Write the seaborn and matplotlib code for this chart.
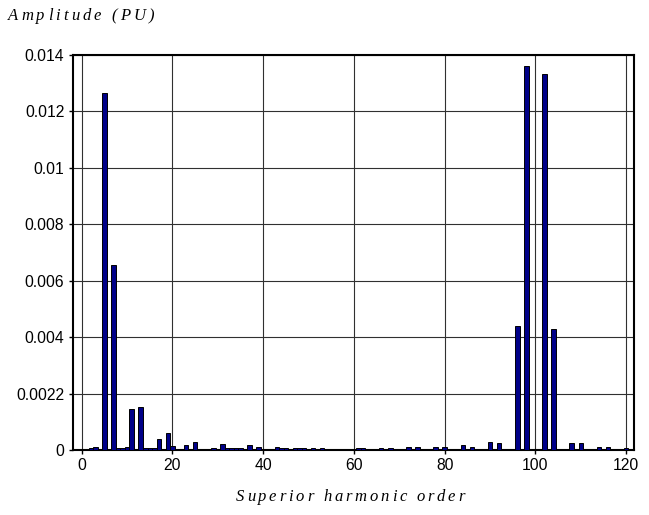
import matplotlib
matplotlib.use("Agg")
import matplotlib.pyplot as plt
from matplotlib.font_manager import FontProperties, findfont, get_font
import seaborn as sns
import pandas as pd

# Harmonic spectrum (per-unit amplitude by harmonic order)
orders = [2, 3, 5, 7, 8, 9, 10, 11, 13, 14, 15, 16, 17, 19, 20, 23, 25, 29, 31,
          32, 33, 34, 35, 37, 39, 43, 44, 45, 47, 48, 49, 51, 53, 61, 62, 66,
          68, 72, 74, 78, 80, 84, 86, 90, 92, 96, 98, 102, 104, 108, 110, 114,
          116, 120]
amplitudes = [0.00008, 0.00012, 0.01266, 0.00655, 0.00007, 0.00008, 0.00012,
              0.00144, 0.00153, 0.00008, 0.00008, 0.00008, 0.00038, 0.00062,
              0.00013, 0.00017, 0.0003, 0.00008, 0.0002, 0.00008, 0.00008,
              0.00008, 0.00008, 0.00016, 0.00012, 0.00011, 0.00008, 0.00008,
              0.00008, 0.00008, 0.00008, 0.00008, 0.00008, 0.00008, 0.00008,
              0.00008, 0.00008, 0.00009, 0.00009, 0.0001, 0.00012, 0.00016,
              0.00012, 0.00029, 0.00024, 0.0044, 0.01361, 0.01333, 0.0043,
              0.00024, 0.00024, 0.00012, 0.00012, 0.00008]

x_ticks = [0, 20, 40, 60, 80, 100, 120]
y_ticks = [0, 0.002, 0.004, 0.006, 0.008, 0.01, 0.012, 0.014]
y_tick_labels = ["0", "0.0022", "0.004", "0.006", "0.008", "0.01", "0.012", "0.014"]

y_title = "Amplitude (PU)"
x_title = "Superior harmonic order"

df = pd.DataFrame({"order": orders, "amp": amplitudes})

sns.set_theme(style="white")
plt.rcParams["font.family"] = ["Liberation Sans", "DejaVu Sans"]

W, H = 649, 515
fig = plt.figure(figsize=(W / 100, H / 100), dpi=100)
ax = fig.add_axes([72.7 / W, 1 - 450 / H, (634.3 - 72.7) / W, (450 - 55) / H])

sns.barplot(data=df, x="order", y="amp", native_scale=True, width=1.0,
            color="#000088", saturation=1, edgecolor="black", linewidth=0.7,
            errorbar=None, ax=ax, zorder=3)

ax.set_xlim(-2.0, 121.8)
ax.set_ylim(0, 0.014)
ax.set_xticks(x_ticks)
ax.set_xticklabels([str(t) for t in x_ticks])
ax.set_yticks(y_ticks)
ax.set_yticklabels(y_tick_labels)
ax.set_xlabel("")
ax.set_ylabel("")

ax.grid(True, color="#303030", linewidth=0.8, zorder=0)
ax.set_axisbelow(True)
for s in ax.spines.values():
    s.set_color("black")
    s.set_linewidth(1.5)
ax.tick_params(axis="both", which="major", labelsize=11.3, labelcolor="black",
               direction="out", length=3, width=1, color="black", pad=3,
               left=True, bottom=True)


def spaced_text(text, x_px, y_px, size, tracking, ha="left"):
    """Draw italic serif text with extra letter spacing (pixel coordinates)."""
    prop = FontProperties(family=["Liberation Serif", "DejaVu Serif"],
                          style="italic", size=size)
    font = get_font(findfont(prop))
    font.set_size(size, fig.dpi)
    advances = []
    for ch in text:
        glyph = font.load_char(ord(ch))
        advances.append(glyph.linearHoriAdvance / 65536)
    total = sum(advances) + tracking * (len(text) - 1)
    x = x_px - total / 2 if ha == "center" else x_px
    for ch, adv in zip(text, advances):
        if ch != " ":
            fig.text(x / W, 1 - y_px / H, ch, fontproperties=prop,
                     ha="left", va="center", color="black")
        x += adv + tracking


spaced_text(y_title, 8, 16, 12, 3.1)
spaced_text(x_title, 350, 497, 12, 2.8, ha="center")

fig.savefig("out.png", dpi=100)
